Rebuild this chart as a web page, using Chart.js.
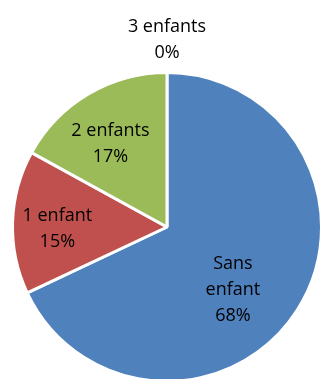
<!DOCTYPE html>
<html>
<head>
<meta charset="utf-8">
<script src="https://cdn.jsdelivr.net/npm/chart.js@4/dist/chart.umd.min.js"></script>
<style>
html,body{margin:0;padding:0;overflow:hidden;background:#fff;width:321px;height:379px;}
#wrap{position:absolute;left:0;top:0;width:340px;height:400px;}
</style>
</head>
<body>
<div id="wrap"><canvas id="c" width="340" height="400"></canvas></div>
<script>
const categories = ["Sans enfant", "1 enfant", "2 enfants", "3 enfants"];
const values = [68, 15, 17, 0];
const labelLines = [["Sans", "enfant", "68%"], ["1 enfant", "15%"], ["2 enfants", "17%"], ["3 enfants", "0%"]];
const colors = ["#4F81BD", "#C0504D", "#9BBB59", "#8064A2"];

// label placement: fraction of radius and angular offset (degrees) from slice mid-angle
const labelPlace = [
  {f: 0.59, d: 11.3},
  {f: 0.71, d: -3},
  {f: 0.65, d: -3.7},
  {f: 1.21, d: 0}
];

const labelPlugin = {
  id: 'sliceLabels',
  afterDatasetsDraw(chart) {
    const ctx = chart.ctx;
    const meta = chart.getDatasetMeta(0);
    ctx.save();
    ctx.font = '18px "Open Sans"';
    ctx.fillStyle = '#000';
    ctx.textAlign = 'center';
    ctx.textBaseline = 'middle';
    const lh = 26;
    meta.data.forEach((arc, i) => {
      const p = labelPlace[i];
      const mid = (arc.startAngle + arc.endAngle) / 2 + p.d * Math.PI / 180;
      const r = arc.outerRadius * p.f;
      const cx = arc.x + Math.cos(mid) * r;
      const cy = arc.y + Math.sin(mid) * r;
      const lines = labelLines[i];
      const y0 = cy - (lines.length - 1) * lh / 2;
      lines.forEach((t, k) => ctx.fillText(t, cx, y0 + k * lh));
    });
    ctx.restore();
  }
};

new Chart(document.getElementById('c'), {
  type: 'pie',
  data: {
    labels: categories,
    datasets: [{
      data: values,
      backgroundColor: colors,
      borderColor: '#ffffff',
      borderWidth: 3
    }]
  },
  options: {
    responsive: false,
    devicePixelRatio: 1,
    animation: false,
    layout: {padding: {left: 11, top: 71, right: 17, bottom: 17}},
    plugins: {legend: {display: false}, tooltip: {enabled: false}}
  },
  plugins: [labelPlugin]
});
</script>
</body>
</html>
